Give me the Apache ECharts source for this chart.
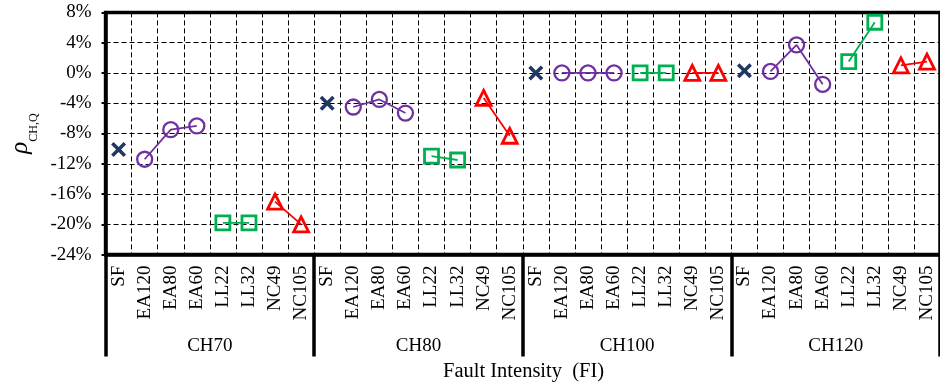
<!DOCTYPE html>
<html>
<head>
<meta charset="utf-8">
<script src="https://cdn.jsdelivr.net/npm/echarts@6/dist/echarts.min.js"></script>
<style>
  html, body { margin: 0; padding: 0; background: #fff; }
  #chart { width: 940px; height: 383px; }
</style>
</head>
<body>
<div id="chart"></div>
<script>
// Channel groups and the fault cases tested within each one
const groups = ['CH70', 'CH80', 'CH100', 'CH120'];
const faults = ['SF', 'EA120', 'EA80', 'EA60', 'LL22', 'LL32', 'NC49', 'NC105'];
const yTicks = [-24, -20, -16, -12, -8, -4, 0, 4, 8];

// rho_CH,Q in percent, one value per channel group
const sf    = [-10.1, -4.0, 0.0, 0.3];
const ea120 = [-11.4, -4.5, 0.0, 0.2];
const ea80  = [-7.5, -3.5, 0.0, 3.7];
const ea60  = [-7.0, -5.3, 0.0, -1.5];
const ll22  = [-19.8, -11.0, 0.0, 1.5];
const ll32  = [-19.8, -11.5, 0.0, 6.7];
const nc49  = [-17.0, -3.3, 0.0, 1.0];
const nc105 = [-20.0, -8.3, 0.0, 1.5];

const serifFont = '"Liberation Serif", "Times New Roman", serif';

// One category per (group, fault) pair
const categories = [];
groups.forEach(() => faults.forEach(f => categories.push(f)));

// Spread per-group values over the full category axis; gaps break the lines between groups
function spread(valueLists, offsets) {
  const out = new Array(categories.length).fill(null);
  groups.forEach((g, gi) => {
    valueLists.forEach((vals, k) => {
      out[gi * faults.length + offsets[k]] = vals[gi];
    });
  });
  return out;
}

const sfData = spread([sf], [0]);
const eaData = spread([ea120, ea80, ea60], [1, 2, 3]);
const llData = spread([ll22, ll32], [4, 5]);
const ncData = spread([nc49, nc105], [6, 7]);

const crossPath = 'path://M0,2L2,0L6,4L10,0L12,2L8,6L12,10L10,12L6,8L2,12L0,10L4,6Z';

function hollowLine(name, data, color, symbol, size, border) {
  return {
    name, type: 'line', data, connectNulls: false,
    symbol, symbolSize: size, showSymbol: true,
    lineStyle: { color, width: 1.8 },
    itemStyle: { color: 'rgba(255,255,255,0)', borderColor: color, borderWidth: border, opacity: 1 },
    emphasis: { disabled: true },
    z: 3
  };
}

const chart = echarts.init(document.getElementById('chart'), null, { renderer: 'canvas' });
chart.setOption({
  animation: false,
  backgroundColor: '#fff',
  grid: {
    left: 90, right: -6.5, top: 12.4, bottom: 128.4,
    show: true, borderColor: '#000', borderWidth: 3.5, backgroundColor: 'transparent'
  },
  xAxis: [
    {
      type: 'category', data: categories, boundaryGap: true, position: 'bottom',
      axisLine: { show: true, onZero: false, lineStyle: { color: '#000', width: 3.5 } },
      axisTick: { show: false },
      axisLabel: {
        interval: 0, rotate: 90, margin: 11, color: '#000',
        fontFamily: serifFont, fontSize: 19
      },
      splitLine: { show: true, interval: 0, lineStyle: { color: '#000', width: 1, type: [5, 3] } }
    },
    {
      type: 'category', data: groups, boundaryGap: true, position: 'bottom', offset: 0,
      axisLine: { show: false, onZero: false },
      axisTick: { show: true, interval: 0, length: 102, lineStyle: { color: '#000', width: 3.5 } },
      axisLabel: {
        interval: 0, margin: 82, color: '#000',
        fontFamily: serifFont, fontSize: 19
      },
      splitLine: { show: false }
    }
  ],
  yAxis: {
    type: 'value', min: yTicks[0], max: yTicks[yTicks.length - 1], interval: 4,
    axisLine: { show: true, lineStyle: { color: '#000', width: 3.5 } },
    axisTick: { show: true, length: 4, lineStyle: { color: '#000', width: 2 } },
    axisLabel: {
      margin: 14, color: '#000', fontFamily: serifFont, fontSize: 19,
      formatter: '{value}%'
    },
    splitLine: { show: true, lineStyle: { color: '#000', width: 1, type: [5, 3] } },
    name: '{r|ρ}{s|CH,Q}',
    nameLocation: 'middle', nameRotate: 90, nameGap: 68,
    nameTextStyle: {
      rich: {
        r: { fontFamily: serifFont, fontStyle: 'italic', fontSize: 25, color: '#000', lineHeight: 26 },
        s: { fontFamily: serifFont, fontSize: 12, color: '#000', verticalAlign: 'bottom', lineHeight: 26, padding: [0, 0, -6, 0] }
      }
    }
  },
  graphic: [
    {
      type: 'text', left: 443, top: 361,
      style: { text: 'Fault Intensity  (FI)', font: '20.5px ' + serifFont, fill: '#000' }
    }
  ],
  series: [
    {
      name: 'SF', type: 'scatter', data: sfData, symbol: crossPath, symbolSize: 15,
      itemStyle: { color: '#1f3864', opacity: 1 }, emphasis: { disabled: true }, z: 3
    },
    hollowLine('EA', eaData, '#7030a0', 'circle', 15, 2.3),
    hollowLine('LL', llData, '#00b050', 'rect', 14, 2.8),
    hollowLine('NC', ncData, '#ff0000', 'triangle', 15, 2.8)
  ]
});
</script>
</body>
</html>
